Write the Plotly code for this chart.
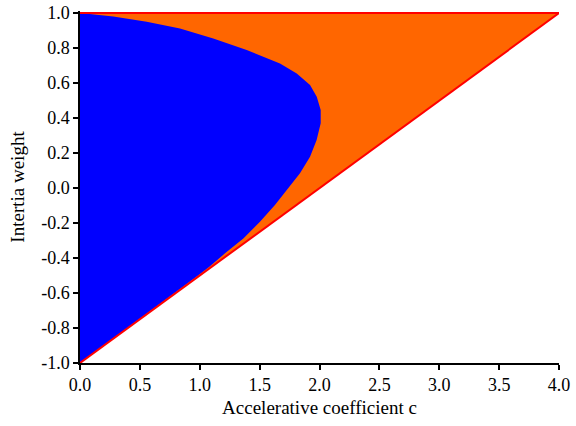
import plotly.graph_objects as go

# Triangle (order-1 stability region) vertices: accelerative coefficient c, inertia weight w
tri_c = [0.0, 4.0, 0.0, 0.0]
tri_w = [-1.0, 1.0, 1.0, -1.0]

# Red boundary lines
top_c = [0.0, 4.0]
top_w = [1.0, 1.0]
diag_c = [0.0, 4.0]
diag_w = [-1.0, 1.0]

# Blue region boundary, from w=1 down to w=-1
blue_w = [1.0, 0.981, 0.950, 0.912, 0.855, 0.789, 0.712, 0.655, 0.589, 0.522, 0.446,
          0.370, 0.274, 0.179, 0.084, -0.002, -0.097, -0.193, -0.288, -0.373,
          -0.45, -0.5, -0.6, -0.7, -0.8, -0.9, -1.0]
blue_c = [0.0, 0.278, 0.557, 0.835, 1.113, 1.392, 1.670, 1.810, 1.921, 1.977, 2.010,
          2.010, 1.976, 1.921, 1.837, 1.740, 1.628, 1.503, 1.364, 1.211,
          1.08, 0.985, 0.79, 0.595, 0.397, 0.199, 0.0]

x_ticks = [0.0, 0.5, 1.0, 1.5, 2.0, 2.5, 3.0, 3.5, 4.0]
y_ticks = [-1.0, -0.8, -0.6, -0.4, -0.2, 0.0, 0.2, 0.4, 0.6, 0.8, 1.0]

fig = go.Figure()
fig.add_trace(go.Scatter(x=tri_c, y=tri_w, mode="lines", fill="toself",
                         fillcolor="#FF6600", line=dict(width=0), hoverinfo="skip"))
fig.add_trace(go.Scatter(x=blue_c + [0.0], y=blue_w + [1.0], mode="lines", fill="toself",
                         fillcolor="#0000FF", line=dict(width=0), hoverinfo="skip"))
fig.add_trace(go.Scatter(x=top_c, y=top_w, mode="lines", line=dict(color="#FF0000", width=2)))
fig.add_trace(go.Scatter(x=diag_c, y=diag_w, mode="lines", line=dict(color="#FF0000", width=2)))

font = "Liberation Serif"
fig.update_layout(
    width=576, height=426,
    margin=dict(l=80, r=17, t=11, b=63, autoexpand=False),
    paper_bgcolor="white", plot_bgcolor="white",
    showlegend=False,
    font=dict(family=font, size=18, color="black"),
    xaxis=dict(range=[0, 4], tickvals=x_ticks, ticktext=[f"{v:.1f}" for v in x_ticks],
               showgrid=False, zeroline=False, showline=True, linecolor="black", linewidth=1.5,
               ticks="outside", ticklen=5, tickwidth=1.5, tickcolor="black", automargin=False,
               tickfont=dict(family=font, size=18),
               title=dict(text="Accelerative coefficient c", font=dict(family=font, size=19), standoff=6)),
    yaxis=dict(range=[-1, 1.012], tickvals=y_ticks, ticktext=[f"{v:.1f}" for v in y_ticks],
               showgrid=False, zeroline=False, showline=True, linecolor="black", linewidth=1.5,
               ticks="outside", ticklen=5, tickwidth=1.5, tickcolor="black", automargin=False,
               tickfont=dict(family=font, size=18),
               title=dict(text="Intertia weight", font=dict(family=font, size=19), standoff=12)),
)
fig.write_html("out.html", config={"displayModeBar": False},
               post_script="document.body.style.margin='0';document.body.style.overflow='hidden';")
